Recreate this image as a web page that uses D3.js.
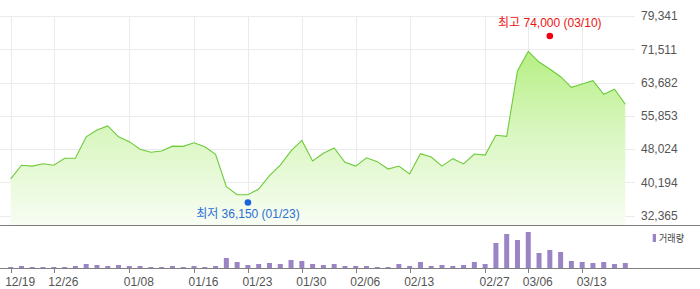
<!DOCTYPE html>
<html><head><meta charset="utf-8">
<script src="https://cdn.jsdelivr.net/npm/d3@7"></script>
<style>
html,body{margin:0;padding:0;background:#fff;}
svg{display:block;font-family:"Liberation Sans","Noto Sans CJK KR",sans-serif;}
</style></head>
<body><svg id="c" width="700" height="289"></svg>
<script>
// ---- data ----
const prices = [41000,44200,44000,44550,44200,45850,45850,50900,52500,53450,
  50900,49750,47950,47250,47550,48700,48650,49500,48550,46750,
  39150,37250,37250,38600,41750,44250,47600,50050,45200,47000,
  48250,44900,44000,45950,45050,43300,44000,42150,46900,46150,
  44000,45750,44500,46850,46600,51250,51000,66400,71000,68500,
  66850,65050,62550,63350,64100,60900,62100,58550];
const volumes = [65000,115000,65000,65000,65000,65000,115000,215000,165000,115000,
  165000,115000,115000,65000,65000,115000,65000,115000,65000,115000,
  515000,315000,165000,215000,265000,215000,415000,365000,215000,165000,
  215000,115000,115000,115000,65000,65000,215000,115000,315000,115000,
  165000,115000,165000,315000,215000,1265000,1715000,1415000,1815000,765000,
  915000,815000,365000,315000,265000,315000,215000,265000];
const xTickIndex = [0,4,11,17,22,27,32,37,44,48,53];
const xTickLabels = ["12/19","12/26","01/08","01/16","01/23","01/30","02/06","02/13","02/27","03/06","03/13"];
const yTickValues = [32365,40194,48024,55853,63682,71511,79341];
const yTickLabels = ["32,365","40,194","48,024","55,853","63,682","71,511","79,341"];
const highPoint = {index:50, value:74000, label:"최고 74,000 (03/10)"};
const lowPoint = {index:22, value:36150, label:"최저 36,150 (01/23)"};
const legendLabel = "거래량";

// ---- layout ----
const svg = d3.select("#c");
const x = d3.scaleLinear().domain([0, prices.length-1]).range([10.7, 625.3]);
const y = d3.scaleLinear().domain([32365, 79341]).range([215.5, 16]);
const yv = d3.scaleLinear().domain([0, 2000000]).range([268.3, 228.3]);
const plotRight = 635, priceBottom = 225, volBase = 268.3;

// gradient
const defs = svg.append("defs");
const g = defs.append("linearGradient").attr("id","fillg")
  .attr("gradientUnits","userSpaceOnUse").attr("x1",0).attr("x2",0).attr("y1",45).attr("y2",priceBottom);
g.append("stop").attr("offset","0").attr("stop-color","#b4ee80");
g.append("stop").attr("offset","0.5").attr("stop-color","#daf7c2");
g.append("stop").attr("offset","1").attr("stop-color","#f8fdf3");

// grid
svg.append("g").selectAll("line").data(yTickValues).join("line")
  .attr("x1",0).attr("x2",plotRight)
  .attr("y1",d=>Math.round(y(d))+0.5).attr("y2",d=>Math.round(y(d))+0.5)
  .attr("stroke","#ebebeb").attr("stroke-width",1);
svg.append("g").selectAll("line").data(xTickIndex).join("line")
  .attr("x1",d=>Math.round(x(d))+0.5).attr("x2",d=>Math.round(x(d))+0.5)
  .attr("y1",16).attr("y2",priceBottom)
  .attr("stroke","#ebebeb").attr("stroke-width",1);

// area + line
const area = d3.area().x((d,i)=>x(i)).y0(priceBottom).y1(d=>y(d));
const line = d3.line().x((d,i)=>x(i)).y(d=>y(d));
svg.append("path").datum(prices).attr("d",area).attr("fill","url(#fillg)");
svg.append("path").datum(prices).attr("d",line).attr("fill","none")
  .attr("stroke","#6ccb38").attr("stroke-width",1.1);

// y labels
svg.append("g").selectAll("text").data(yTickValues).join("text")
  .attr("x",641).attr("y",d=>y(d)).attr("dy","0.36em")
  .attr("font-size",12).attr("fill","#555")
  .text((d,i)=>yTickLabels[i]);

// high / low markers
svg.append("circle").attr("cx",x(highPoint.index)).attr("cy",y(highPoint.value)-2.7)
  .attr("r",3.3).attr("fill","#f0000f");
svg.append("text").attr("x",x(highPoint.index)).attr("y",y(highPoint.value)-11.5)
  .attr("text-anchor","middle").attr("font-size",12).attr("fill","#ee1111").text(highPoint.label);
svg.append("circle").attr("cx",x(lowPoint.index)).attr("cy",y(lowPoint.value)+3)
  .attr("r",3.3).attr("fill","#1a63dc");
svg.append("text").attr("x",x(lowPoint.index)).attr("y",y(lowPoint.value)+18.5)
  .attr("text-anchor","middle").attr("font-size",12).attr("fill","#2a6fd6").text(lowPoint.label);

// divider
svg.append("line").attr("x1",0).attr("x2",700).attr("y1",225.5).attr("y2",225.5)
  .attr("stroke","#7d7d7d").attr("stroke-width",1);

// volume bars
svg.append("g").selectAll("rect").data(volumes).join("rect")
  .attr("x",(d,i)=>x(i)-2.5).attr("width",5)
  .attr("y",d=>yv(d)).attr("height",d=>volBase-yv(d))
  .attr("fill","#9a84c5");

// volume axis
svg.append("line").attr("x1",0).attr("x2",700).attr("y1",268.5).attr("y2",268.5)
  .attr("stroke","#808080").attr("stroke-width",1);
svg.append("g").selectAll("line").data(xTickIndex).join("line")
  .attr("x1",d=>Math.round(x(d))+0.5).attr("x2",d=>Math.round(x(d))+0.5)
  .attr("y1",268.5).attr("y2",273)
  .attr("stroke","#808080").attr("stroke-width",1);
svg.append("g").selectAll("text").data(xTickIndex).join("text")
  .attr("x",d=>x(d)+9.5).attr("y",286)
  .attr("text-anchor","middle").attr("font-size",12).attr("fill","#555")
  .text((d,i)=>xTickLabels[i]);

// legend
svg.append("rect").attr("x",652.7).attr("y",234).attr("width",3.3).attr("height",8).attr("fill","#9a84c5");
svg.append("text").attr("x",659).attr("y",242).attr("font-size",10.5)
  .attr("textLength",25).attr("lengthAdjust","spacingAndGlyphs")
  .attr("fill","#444").text(legendLabel);
</script></body></html>
